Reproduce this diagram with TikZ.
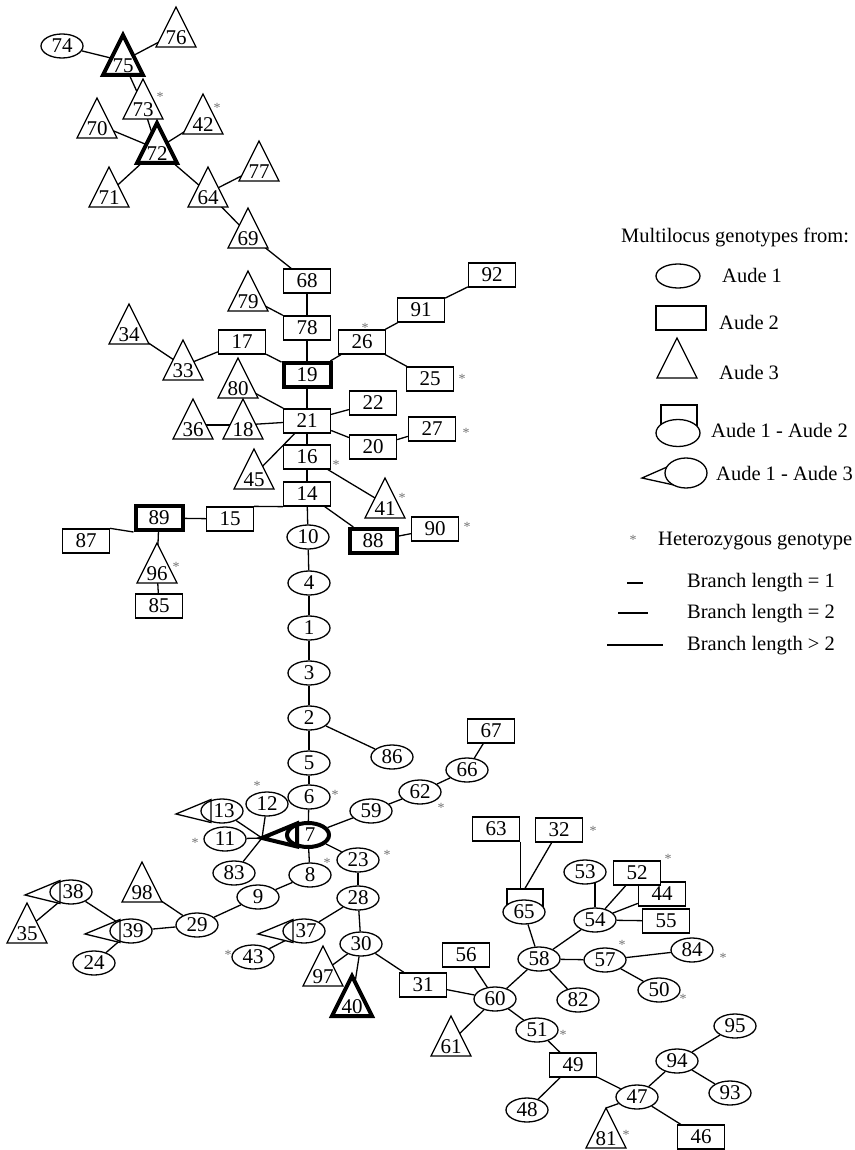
\documentclass[tikz,border=0pt]{standalone}
\usepackage{fontspec}
\setmainfont{Liberation Serif}
\usetikzlibrary{shapes.geometric}
\pgfdeclarelayer{edgelayer}
\pgfsetlayers{edgelayer,main}
\newcommand\numfont{\fontsize{21}{24}\selectfont}
\newcommand\legfont{\fontsize{20.5}{24}\selectfont}
\tikzset{
 shapeline/.style={draw, line width=1.3pt, line join=miter},
 trishape/.style={shapeline, fill=white},
 ell/.style={ellipse, shapeline, fill=white, minimum width=42pt, minimum height=24pt, inner sep=0pt, font=\numfont},
 boxn/.style={rectangle, shapeline, fill=white, minimum width=47pt, minimum height=24pt, inner sep=0pt, font=\numfont},
 heavy/.style={line width=4pt},
 lbl/.style={inner sep=0pt, font=\numfont},
 legtxt/.style={inner sep=0pt, font=\legfont, anchor=base west},
 star/.style={inner sep=0pt, font=\fontsize{14}{14}\selectfont, text=black!55, yshift=-2pt},
 edge/.style={line width=1.3pt},
 dashkey/.style={line width=1.7pt},
}
\newcommand\Tri[5][]{%
  \path[trishape,#1] (#3-20,#4) -- (#3,#4-40) -- (#3+20,#4) -- cycle;
  \coordinate (#2) at (#3,#4-14);
  \coordinate (#2a) at (#3,#4-40);
  \node[lbl] (t#2) at (#3,#4-9) {#5};}
\newcommand\Combo[5][]{%
  \path[fill=white] (#3-46,#4+3) -- (#3-11,#4-11.5) -- (#3-11,#4+11.5) -- cycle;
  \node[ell,#1] (#2) at (#3,#4) {};
  \draw[shapeline,#1] (#3-11,#4-11.5) -- (#3-46,#4+3) -- (#3-11,#4+11.5) -- cycle;
  \coordinate (#2a) at (#3-46,#4+3);
  \node[lbl] (t#2) at (#3+2,#4) {#5};}
\begin{document}
\begin{tikzpicture}[x=1pt,y=-1pt]
\useasboundingbox (0,0) rectangle (854,1150);
% ---------------- nodes ----------------
\node[ell] (n74) at (62,46) {74};
\Tri[heavy]{n75}{123}{75}{75}
\Tri{n76}{176}{47}{76}
\Tri{n73}{143}{119}{73}
\Tri{n42}{203}{134}{42}
\Tri{n70}{97}{138}{70}
\Tri[heavy]{n72}{157}{163}{72}
\Tri{n71}{109}{207}{71}
\Tri{n64}{208}{207}{64}
\Tri{n77}{259}{181}{77}
\Tri{n69}{248}{248}{69}
\node[boxn] (n68) at (307,281) {68};
\Tri{n79}{248}{311}{79}
\node[boxn] (n78) at (307,328) {78};
\Tri{n34}{129}{344}{34}
\Tri{n33}{183}{380}{33}
\node[boxn] (n17) at (242,342) {17};
\node[boxn,heavy] (n19) at (307,375) {19};
\node[boxn] (n26) at (362,342) {26};
\node[boxn] (n91) at (421,310) {91};
\node[boxn] (n92) at (492,275) {92};
\node[boxn] (n25) at (430,379) {25};
\Tri{n80}{238}{398}{80}
\node[boxn] (n21) at (307,421) {21};
\node[boxn] (n22) at (373,403) {22};
\Tri{n36}{193}{439}{36}
\Tri{n18}{243}{439}{18}
\node[boxn] (n20) at (373,447) {20};
\node[boxn] (n27) at (432,429) {27};
\node[boxn] (n16) at (307,457) {16};
\Tri{n45}{254}{489}{45}
\node[boxn] (n14) at (307,494) {14};
\Tri{n41}{385}{518}{41}
\node[boxn] (n90) at (435,529) {90};
\node[boxn,heavy] (n88) at (373,541) {88};
\node[boxn] (n15) at (230,519) {15};
\node[boxn,heavy] (n89) at (159,518) {89};
\node[boxn] (n87) at (86,541) {87};
\Tri{n96}{157}{583}{96}
\node[boxn] (n85) at (159,606) {85};
\node[ell] (n10) at (308,537) {10};
\node[ell] (n4) at (309,583) {4};
\node[ell] (n1) at (309,628) {1};
\node[ell] (n3) at (309,673) {3};
\node[ell] (n2) at (309,718) {2};
\node[ell] (n86) at (392,757) {86};
\node[ell] (n5) at (309,763) {5};
\node[ell] (n6) at (309,797) {6};
\node[ell] (n12) at (267,804) {12};
\Combo{n13}{222}{811}{13}
\node[ell] (n11) at (225,839) {11};
\node[ell] (n83) at (234,873) {83};
\Combo[heavy]{n7}{308}{835}{7}
\node[ell] (n8) at (310,875) {8};
\node[ell] (n59) at (371,811) {59};
\node[ell] (n62) at (420,792) {62};
\node[ell] (n66) at (467,770) {66};
\node[boxn] (n67) at (491,731) {67};
\node[ell] (n23) at (358,860) {23};
\node[ell] (n28) at (358,898) {28};
\node[ell] (n9) at (258,897) {9};
\node[ell] (n29) at (197,925) {29};
\Tri{n98}{142}{902}{98}
\Combo{n38}{71}{892}{38}
\Tri{n35}{27}{943}{35}
\Combo{n39}{131}{931}{39}
\node[ell] (n24) at (94,963) {24};
\Combo{n37}{304}{931}{37}
\node[ell] (n43) at (253,957) {43};
\node[ell] (n30) at (361,944) {30};
\Tri{n97}{323}{986}{97}
\Tri[heavy]{n40}{352}{1016}{40}
\node[boxn] (n31) at (423,985) {31};
\node[boxn] (n63) at (496,829) {63};
\node[boxn] (n32) at (559,830) {32};
\node[rectangle, shapeline, fill=white, minimum width=36pt, minimum height=20pt, inner sep=0pt] (n65b) at (525,899) {};
\node[ell] (n65) at (524,912) {65};
\node[ell] (n53) at (585,872) {53};
\node[boxn] (n44) at (662,894) {44};
\node[boxn] (n52) at (637,873) {52};
\node[boxn] (n55) at (666,921) {55};
\node[ell] (n54) at (595,920) {54};
\node[ell] (n58) at (539,959) {58};
\node[ell] (n57) at (605,960) {57};
\node[ell] (n84) at (692,950) {84};
\node[ell] (n50) at (659,990) {50};
\node[ell] (n82) at (578,1000) {82};
\node[boxn] (n56) at (466,955) {56};
\node[ell] (n60) at (495,999) {60};
\Tri{n61}{451}{1056}{61}
\node[ell] (n51) at (537,1030) {51};
\node[boxn] (n49) at (573,1065) {49};
\node[ell] (n48) at (527,1110) {48};
\node[ell] (n47) at (637,1097) {47};
\node[ell] (n94) at (677,1061) {94};
\node[ell] (n95) at (735,1026) {95};
\node[ell] (n93) at (730,1093) {93};
\node[boxn] (n46) at (701,1137) {46};
\Tri{n81}{606}{1148}{81}
% ---------------- asterisks ----------------
\node[star] (s73) at (160,95) {*};
\node[star] (s42) at (217,106) {*};
\node[star] (s26) at (365,326) {*};
\node[star] (s25) at (462,377) {*};
\node[star] (s27) at (466,431) {*};
\node[star] (s16) at (336,463) {*};
\node[star] (s41) at (402,496) {*};
\node[star] (s90) at (467,525) {*};
\node[star] (s96) at (176,565) {*};
\node[star] (s6) at (335,793) {*};
\node[star] (s12) at (257,784) {*};
\node[star] (s11) at (195,841) {*};
\node[star] (s8) at (327,861) {*};
\node[star] (s62) at (441,806) {*};
\node[star] (s23) at (387,853) {*};
\node[star] (s43) at (228,953) {*};
\node[star] (s32) at (593,829) {*};
\node[star] (s52) at (668,857) {*};
\node[star] (s57) at (622,943) {*};
\node[star] (s84) at (723,956) {*};
\node[star] (s50) at (683,997) {*};
\node[star] (s51) at (563,1033) {*};
\node[star] (s81) at (626,1133) {*};
% ---------------- edges ----------------
\begin{pgfonlayer}{edgelayer}
\draw[edge] (n74) -- (n75);
\draw[edge] (n75) -- (n76);
\draw[edge] (n75) -- (n73);
\draw[edge] (n73) -- (n72);
\draw[edge] (n70) -- (n72);
\draw[edge] (n71) -- (n72);
\draw[edge] (n42) -- (n72);
\draw[edge] (n72) -- (n64);
\draw[edge] (n64) -- (n77);
\draw[edge] (n64) -- (n69);
\draw[edge] (n69) -- (n68);
\draw[edge] (n68) -- (n78);
\draw[edge] (n79) -- (n78);
\draw[edge] (n78) -- (n19);
\draw[edge] (n34) -- (n33);
\draw[edge] (n33) -- (n17);
\draw[edge] (n17) -- (n19);
\draw[edge] (n19) -- (n26);
\draw[edge] (n26) -- (n91);
\draw[edge] (n91) -- (n92);
\draw[edge] (n26) -- (n25);
\draw[edge] (n19) -- (n21);
\draw[edge] (n80) -- (n21);
\draw[edge] (n18) -- (n21);
\draw[edge] (n36) -- (n18);
\draw[edge] (n21) -- (n22);
\draw[edge] (n21) -- (n20);
\draw[edge] (n20) -- (n27);
\draw[edge] (n21) -- (n45);
\draw[edge] (n21) -- (n16);
\draw[edge] (n16) -- (n14);
\draw[edge] (n16) -- (n41);
\draw[edge] (n15.north east) -- (n14.south west);
\draw[edge] (n15) -- (n89);
\draw[edge] (n87.north east) -- (n89.south west);
\draw[edge] (n89) -- (n96);
\draw[edge] (n96) -- (n85);
\draw[edge] (n14) -- (n88);
\draw[edge] (n88) -- (n90);
\draw[edge] (n14) -- (n10);
\draw[edge] (n10) -- (n4);
\draw[edge] (n4) -- (n1);
\draw[edge] (n1) -- (n3);
\draw[edge] (n3) -- (n2);
\draw[edge] (n2) -- (n86);
\draw[edge] (n2) -- (n5);
\draw[edge] (n5) -- (n6);
\draw[edge] (n6) -- (n7);
\draw[edge] (n12) -- (n7a);
\draw[edge] (n13) -- (n7a);
\draw[edge] (n11) -- (n7a);
\draw[edge] (n83) -- (n7a);
\draw[edge] (n7) -- (n59);
\draw[edge] (n59) -- (n62);
\draw[edge] (n62) -- (n66);
\draw[edge] (n66) -- (n67);
\draw[edge] (n7) -- (n23);
\draw[edge] (n7) -- (n8);
\draw[edge] (n8) -- (n9);
\draw[edge] (n9) -- (n29);
\draw[edge] (n98) -- (n29);
\draw[edge] (n29) -- (n39);
\draw[edge] (n38) -- (n39);
\draw[edge] (n38) -- (n35);
\draw[edge] (n39) -- (n24);
\draw[edge] (n23) -- (n28);
\draw[edge] (n28) -- (n37);
\draw[edge] (n37) -- (n43);
\draw[edge] (n28) -- (n30);
\draw[edge] (n30) -- (n97);
\draw[edge] (n30) -- (n40);
\draw[edge] (n30) -- (n31);
\draw[edge] (n31) -- (n60);
\draw[edge] (n56) -- (n60);
\draw[edge] (n60) -- (n61);
\draw[edge] (n60) -- (n58);
\draw[edge] (n60) -- (n51);
\draw[edge] (n58) -- (n65);
\draw[edge] (n63.south east) -- (n63.south east |- n65b.north);
\draw[edge] (n32) -- (n65b.north);
\draw[edge] (n58) -- (n54);
\draw[edge] (n53 -| n54) -- (n54);
\draw[edge] (n54) -- (n52);
\draw[edge] (n54) -- (n44);
\draw[edge] (n54) -- (n55);
\draw[edge] (n58) -- (n57);
\draw[edge] (n57) -- (n84);
\draw[edge] (n57) -- (n50);
\draw[edge] (n58) -- (n82);
\draw[edge] (n51) -- (n49);
\draw[edge] (n49) -- (n48);
\draw[edge] (n49) -- (n47);
\draw[edge] (n47) -- (n81a);
\draw[edge] (n47) -- (n94);
\draw[edge] (n94) -- (n95);
\draw[edge] (n94) -- (n93);
\draw[edge] (n47) -- (n46);
\end{pgfonlayer}
% ---------------- legend ----------------
\node[legtxt] (lgtitle) at (621,243) {Multilocus genotypes from:};
\node[ell, minimum width=44pt] (lg1) at (678,276) {};
\node[legtxt] (lg1t) at (722,282) {Aude 1};
\node[boxn, minimum width=50pt] (lg2) at (681,318) {};
\node[legtxt] (lg2t) at (719,329) {Aude 2};
\path[trishape] (657,378) -- (677,338) -- (697,378) -- cycle;
\node[legtxt] (lg3t) at (719,379) {Aude 3};
\node[rectangle, shapeline, fill=white, minimum width=36pt, minimum height=22pt, inner sep=0pt] (lg12b) at (679,416) {};
\node[ell, minimum width=44pt, minimum height=27pt] (lg12) at (678,433) {};
\node[legtxt] (lg12t) at (711,437) {Aude 1 - Aude 2};
\draw[shapeline] (683,460) -- (642,478) -- (683,487);
\node[ell, minimum width=42pt, minimum height=30pt] (lg13) at (686,473) {};
\node[legtxt] (lg13t) at (716,480) {Aude 1 - Aude 3};
\node[star] (lgstar) at (633,538) {*};
\node[legtxt] (lghet) at (658,545) {Heterozygous genotype};
\coordinate (d1a) at (627,583); \coordinate (d1b) at (643,583);
\coordinate (d2a) at (618,613); \coordinate (d2b) at (648,613);
\coordinate (d3a) at (607,645); \coordinate (d3b) at (663,645);
\draw[dashkey] (d1a) -- (d1b);
\draw[dashkey] (d2a) -- (d2b);
\draw[dashkey] (d3a) -- (d3b);
\node[legtxt] (lgb1) at (687,587) {Branch length = 1};
\node[legtxt] (lgb2) at (687,618) {Branch length = 2};
\node[legtxt] (lgb3) at (687,650) {Branch length > 2};
\end{tikzpicture}
\end{document}
